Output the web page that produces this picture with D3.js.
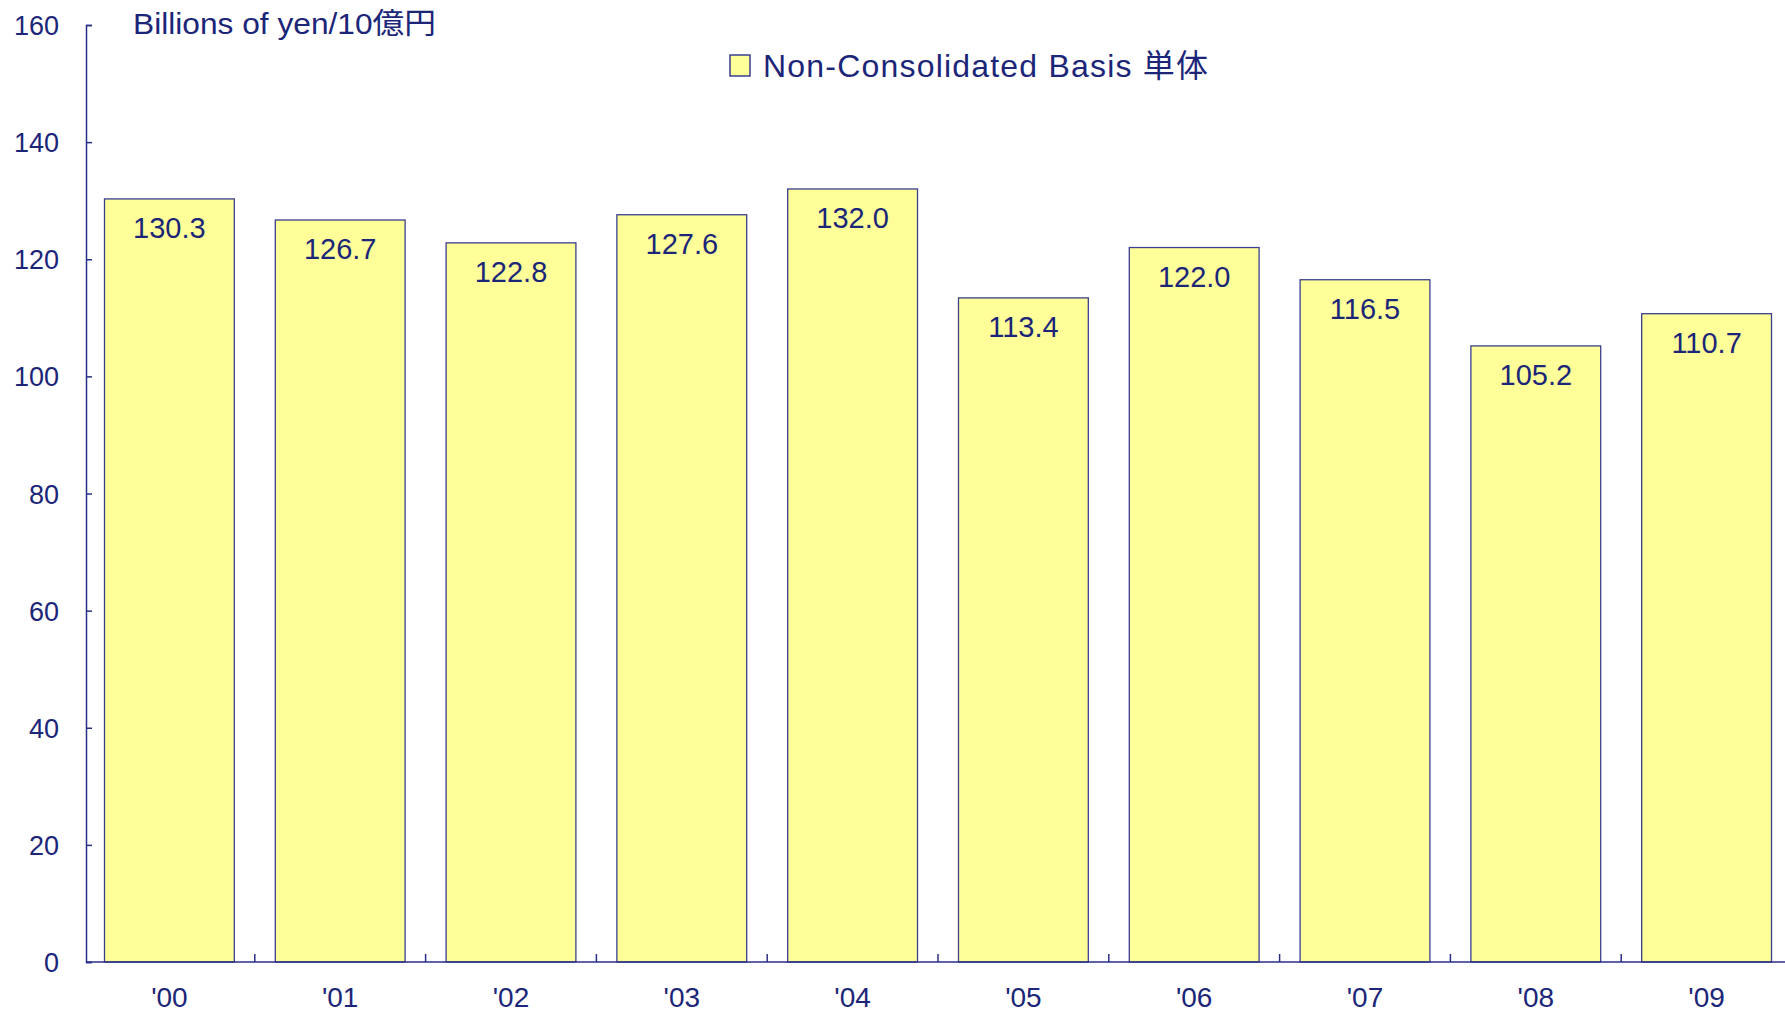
<!DOCTYPE html>
<html>
<head>
<meta charset="utf-8">
<script src="https://cdn.jsdelivr.net/npm/d3@7"></script>
<style>
  html, body { margin: 0; padding: 0; background: #fff; }
  svg text { font-family: "Liberation Sans", Arial, "Noto Sans CJK JP", sans-serif; fill: #1c2678; }
</style>
</head>
<body>
<div id="chart"></div>
<script>
const years = ["'00", "'01", "'02", "'03", "'04", "'05", "'06", "'07", "'08", "'09"];
const values = [130.3, 126.7, 122.8, 127.6, 132.0, 113.4, 122.0, 116.5, 105.2, 110.7];
const yTicks = [0, 20, 40, 60, 80, 100, 120, 140, 160];
const unitLabel = "Billions of yen/10億円";
const legendLabel = "Non-Consolidated Basis 単体";

const W = 1785, H = 1012;
const axisColor = "#2a2f86";

const svg = d3.select("#chart")
  .append("svg")
  .attr("width", W)
  .attr("height", H);

const x = d3.scaleBand()
  .domain(years)
  .range([84, 1792])
  .paddingInner(0.24)
  .paddingOuter(0.12);

const y = d3.scaleLinear()
  .domain([0, 160])
  .range([962, 25]);

// bars
svg.selectAll("rect.bar")
  .data(values)
  .enter()
  .append("rect")
  .attr("class", "bar")
  .attr("x", (d, i) => x(years[i]))
  .attr("y", d => y(d))
  .attr("width", x.bandwidth())
  .attr("height", d => y(0) - y(d))
  .attr("fill", "#ffff99")
  .attr("stroke", "#3a3f8f")
  .attr("stroke-width", 1.3);

// value labels
svg.selectAll("text.val")
  .data(values)
  .enter()
  .append("text")
  .attr("class", "val")
  .attr("x", (d, i) => x(years[i]) + x.bandwidth() / 2)
  .attr("y", d => y(d) + 39)
  .attr("text-anchor", "middle")
  .style("font-size", "29px")
  .text(d => d.toFixed(1));

// y axis
const yAxis = d3.axisRight(y)
  .tickValues(yTicks)
  .tickSize(6)
  .tickFormat("");
const gy = svg.append("g")
  .attr("transform", "translate(86,0)")
  .call(yAxis);
gy.select(".domain").attr("stroke", axisColor).attr("stroke-width", 1.5);
gy.selectAll(".tick line").attr("stroke", axisColor).attr("stroke-width", 1.5);

svg.selectAll("text.ytick")
  .data(yTicks)
  .enter()
  .append("text")
  .attr("class", "ytick")
  .attr("x", 59)
  .attr("y", d => y(d) + 10)
  .attr("text-anchor", "end")
  .style("font-size", "27px")
  .text(d => d);

// x axis
const boundaries = years.map(d => x(d) - x.step() * x.paddingInner() / 2).slice(1);
svg.append("line")
  .attr("x1", 86).attr("x2", W)
  .attr("y1", y(0)).attr("y2", y(0))
  .attr("stroke", axisColor).attr("stroke-width", 1.5);
svg.selectAll("line.xtick")
  .data(boundaries)
  .enter()
  .append("line")
  .attr("class", "xtick")
  .attr("x1", d => d).attr("x2", d => d)
  .attr("y1", y(0)).attr("y2", y(0) - 8)
  .attr("stroke", axisColor).attr("stroke-width", 1.5);

svg.selectAll("text.xlab")
  .data(years)
  .enter()
  .append("text")
  .attr("class", "xlab")
  .attr("x", d => x(d) + x.bandwidth() / 2)
  .attr("y", 1007)
  .attr("text-anchor", "middle")
  .style("font-size", "28px")
  .text(d => d);

// unit label
svg.append("text")
  .attr("x", 133)
  .attr("y", 34)
  .attr("textLength", 303)
  .attr("lengthAdjust", "spacingAndGlyphs")
  .style("font-size", "29px")
  .text(unitLabel);

// legend
svg.append("rect")
  .attr("x", 730).attr("y", 55)
  .attr("width", 20).attr("height", 21)
  .attr("fill", "#ffff99")
  .attr("stroke", "#3a3f8f")
  .attr("stroke-width", 1.5);
svg.append("text")
  .attr("x", 763)
  .attr("y", 77)
  .attr("textLength", 445)
  .attr("lengthAdjust", "spacing")
  .style("font-size", "32px")
  .text(legendLabel);
</script>
</body>
</html>
